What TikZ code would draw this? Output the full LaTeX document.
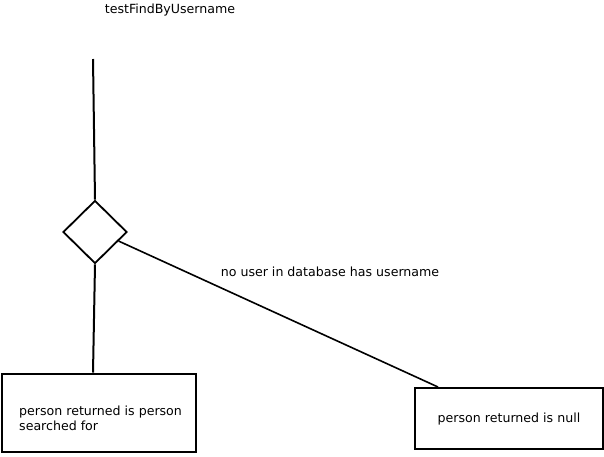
\documentclass[tikz,border=0pt]{standalone}
\usepackage{fontspec}
\setmainfont{DejaVu Sans}
\usetikzlibrary{shapes.geometric}
\begin{document}
\begin{tikzpicture}[x=1pt,y=-1pt,
  lbl/.style={font=\fontsize{12.6}{15}\selectfont, inner sep=0pt},
  conn/.style={line width=2pt},
  resultbox/.style={draw, line width=2pt, inner sep=0pt, font=\fontsize{12.6}{15}\selectfont},
  decision/.style={draw, diamond, line width=1.8pt, inner sep=0pt, minimum width=64pt, minimum height=63pt}]
\useasboundingbox (0,0) rectangle (604,456);
\node[lbl] (title) at (170,10) {testFindByUsername};
\coordinate (start) at (93,59);
\node[decision] (d) at (95,232) {};
\node[resultbox, minimum width=194pt, minimum height=78pt] (lb) at (99,412.5) {};
\node[lbl, align=left, anchor=west, font=\fontsize{12.6}{15}\selectfont] (lbt) at (19,418) {person returned is person\\searched for};
\node[resultbox, minimum width=188pt, minimum height=61pt] (rb) at (509,418.5) {};
\node[lbl] (rbt) at (509,419) {person returned is null};
\node[lbl] (cond) at (330,272) {no user in database has username};
\draw[conn] (start) -- (d.north);
\draw[conn] (d.south) -- ([xshift=-6pt]lb.north);
\draw[line width=1.6pt] (d.-21) -- ([xshift=-71pt]rb.north);
\end{tikzpicture}
\end{document}
